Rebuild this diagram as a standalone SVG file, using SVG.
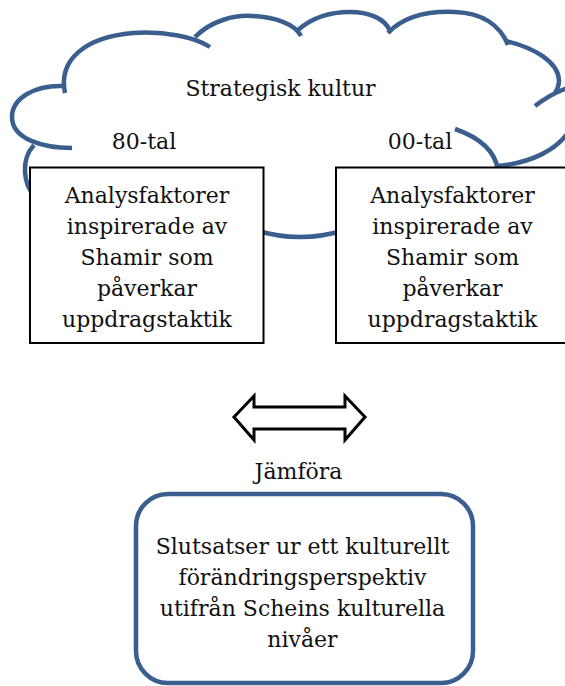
<svg xmlns="http://www.w3.org/2000/svg" width="565" height="686" viewBox="0 0 565 686">
<style>
.cloud{fill:none;stroke:#3A5F8F;stroke-width:4.5;stroke-linecap:butt}
.box{fill:#fff;stroke:#000;stroke-width:2}
.t{font-family:"DejaVu Serif","Liberation Serif",serif;font-size:22px;fill:#111;text-anchor:middle}
</style>
<rect width="565" height="686" fill="#fff"/>
<g id="cloud">
<path class="cloud" d="M 34,195 C 24,185 20,160 34,145"/>
<path class="cloud" d="M 72,148 C 45,148 12,140 12,117 C 12,98 35,85 63,86"/>
<path class="cloud" d="M 65,93 C 58,60 85,37 133,33 C 165,31 195,37 210,47"/>
<path class="cloud" d="M 195,37 C 212,20 235,15 252,16 C 275,17 295,24 301,36"/>
<path class="cloud" d="M 298,30 C 315,15 333,12 350,12 C 368,12 385,18 390,31"/>
<path class="cloud" d="M 388,33 C 405,15 430,11 455,12 C 482,13 500,25 508,45"/>
<path class="cloud" d="M 506,41 C 535,48 558,62 559,80 C 559,86 557,90 555,93"/>
<path class="cloud" d="M 535,106 C 545,98 555,92 570,87"/>
<path class="cloud" d="M 572,126 C 560,150 530,163 498,166"/>
<path class="cloud" d="M 455,129 C 478,137 495,150 498,170"/>
<path class="cloud" d="M 255,230 Q 300,244 345,230"/>
<text class="t" x="280.5" y="96">Strategisk kultur</text>
<text class="t" x="144" y="149">80-tal</text>
<text class="t" x="420" y="149">00-tal</text>
</g>
<g id="box80">
<rect class="box" x="30" y="167.5" width="233.5" height="175.5"/>
<text class="t" x="147" y="203">Analysfaktorer</text>
<text class="t" x="147" y="234">inspirerade av</text>
<text class="t" x="147" y="265">Shamir som</text>
<text class="t" x="147" y="296">påverkar</text>
<text class="t" x="147" y="327">uppdragstaktik</text>
</g>
<g id="box00">
<rect class="box" x="336" y="167.5" width="240" height="175.5"/>
<text class="t" x="452.5" y="203">Analysfaktorer</text>
<text class="t" x="452.5" y="234">inspirerade av</text>
<text class="t" x="452.5" y="265">Shamir som</text>
<text class="t" x="452.5" y="296">påverkar</text>
<text class="t" x="452.5" y="327">uppdragstaktik</text>
</g>
<g id="connectors">
<polygon points="234,417 254,396 254,407 345,407 345,396 365,417 345,440 345,429 254,429 254,440" fill="#fff" stroke="#000" stroke-width="3" stroke-linejoin="miter"/>
<text class="t" x="298.5" y="479">Jämföra</text>
</g>
<g id="conclusion">
<rect x="136" y="494" width="337" height="189" rx="32" ry="32" fill="#fff" stroke="#3A5F8F" stroke-width="4.5"/>
<text class="t" x="302.5" y="554">Slutsatser ur ett kulturellt</text>
<text class="t" x="302.5" y="585">förändringsperspektiv</text>
<text class="t" x="302.5" y="616">utifrån Scheins kulturella</text>
<text class="t" x="302.5" y="647">nivåer</text>
</g>
</svg>
